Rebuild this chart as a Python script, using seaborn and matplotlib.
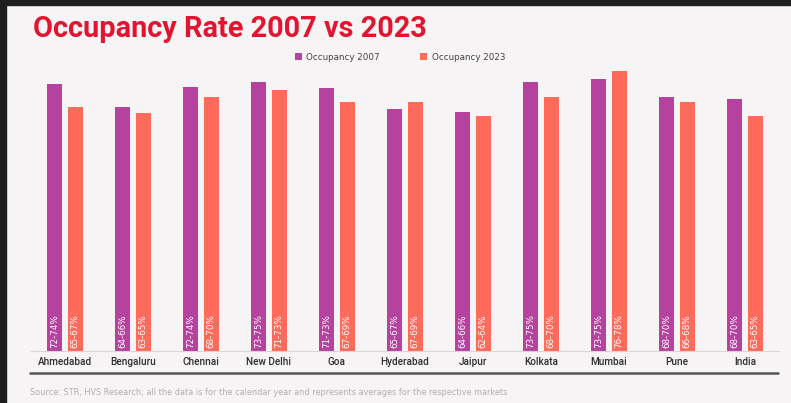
import matplotlib
matplotlib.use("Agg")
import matplotlib.pyplot as plt
import seaborn as sns
import pandas as pd

cities = ["Ahmedabad", "Bengaluru", "Chennai", "New Delhi", "Goa", "Hyderabad",
          "Jaipur", "Kolkata", "Mumbai", "Pune", "India"]
occ_2007 = [73.0, 66.7, 72.1, 73.5, 71.9, 66.1, 65.3, 73.5, 74.3, 69.4, 68.9]
occ_2023 = [66.7, 65.0, 69.4, 71.3, 68.0, 68.0, 64.2, 69.4, 76.5, 68.0, 64.2]
labels_2007 = ["72-74%", "64-66%", "72-74%", "73-75%", "71-73%", "65-67%",
               "64-66%", "73-75%", "73-75%", "68-70%", "68-70%"]
labels_2023 = ["65-67%", "63-65%", "68-70%", "71-73%", "67-69%", "67-69%",
               "62-64%", "68-70%", "76-78%", "66-68%", "63-65%"]
series = ["Occupancy 2007", "Occupancy 2023"]

df = pd.DataFrame({
    "city": cities * 2,
    "value": occ_2007 + occ_2023,
    "series": [series[0]] * len(cities) + [series[1]] * len(cities),
    "label": labels_2007 + labels_2023,
})

sns.set_theme(style="white")
plt.rcParams['font.family'] = ['DejaVu Sans']

W, H = 791, 403
fig = plt.figure(figsize=(W / 100, H / 100), dpi=100, facecolor="#f6f4f4")
ax = fig.add_axes([31 / W, (H - 351) / H, 748 / W, 293 / H])
ax.set_facecolor("none")

palette = {series[0]: "#b4429e", series[1]: "#fe6b5b"}
sns.barplot(data=df, x="city", y="value", hue="series", palette=palette,
            width=0.6, gap=0.27, ax=ax, legend=True, saturation=1, linewidth=0)

ax.set_ylim(0, 80)
ax.set_xlim(-0.5, len(cities) - 0.5)
ax.set_xlabel("")
ax.set_ylabel("")
ax.set_yticks([])
for s in ["top", "right", "left"]:
    ax.spines[s].set_visible(False)
ax.spines["bottom"].set_color("#d8d6d6")
ax.spines["bottom"].set_linewidth(0.8)
ax.tick_params(axis="x", length=0, pad=4, labelsize=6.8, labelcolor="#2e2e2e")
for t in ax.get_xticklabels():
    t.set_fontweight("medium")
    t.set_family(["Roboto", "DejaVu Sans"])
    t.set_fontsize(7.2)

# value labels inside bars
for cont, labs in zip(ax.containers, [labels_2007, labels_2023]):
    for bar, lab in zip(cont, labs):
        ax.text(bar.get_x() + bar.get_width() / 2, 0.9, lab, rotation=90,
                ha="center", va="bottom", color="white", fontsize=6.3)

leg = ax.legend(loc="upper left", bbox_to_anchor=(256 / 748, 1.045), ncol=2,
                frameon=False, fontsize=6.3, handlelength=0.8, handleheight=0.8,
                columnspacing=4.6, handletextpad=0.5)
for t in leg.get_texts():
    t.set_color("#444444")

# title
fig.text(33 / W, 1 - 37 / H, "Occupancy Rate 2007 vs 2023", color="#e3142f",
         fontsize=20.8, fontweight="bold", family=["Roboto", "DejaVu Sans"],
         ha="left", va="baseline")

# dark separator line
fig.add_artist(plt.Line2D([30 / W, 778 / W], [1 - 373 / H] * 2, color="#555555",
                          linewidth=1.8, transform=fig.transFigure))

# source text
fig.text(30 / W, 1 - 395 / H,
         "Source: STR, HVS Research; all the data is for the calendar year and represents averages for the respective markets",
         color="#b0aeae", fontsize=5.9, ha="left", va="baseline")

# screenshot frame on left and top
fig.add_artist(plt.Rectangle((0, 0), 6 / W, 1, color="#1e1e1e", transform=fig.transFigure))
fig.add_artist(plt.Rectangle((0, 1 - 5 / H), 1, 5 / H, color="#1e1e1e", transform=fig.transFigure))

fig.savefig("out.png", dpi=100, facecolor=fig.get_facecolor())
